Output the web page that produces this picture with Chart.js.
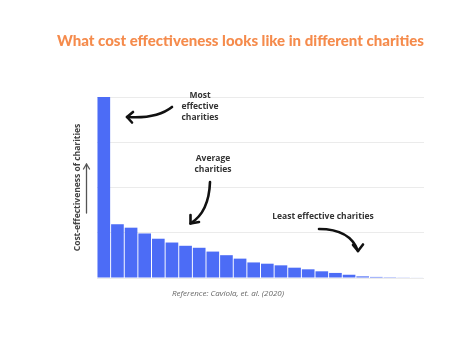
<!DOCTYPE html>
<html>
<head>
<meta charset="utf-8">
<script src="https://cdn.jsdelivr.net/npm/chart.js@4/dist/chart.umd.min.js"></script>
<style>
html,body{margin:0;padding:0;background:#fff;}
#wrap{width:474px;height:355px;position:relative;}
</style>
</head>
<body>
<div id="wrap"><canvas id="c" width="474" height="355"></canvas></div>
<script>
// Data (relative cost-effectiveness, top bar = 100)
const categories = ["1","2","3","4","5","6","7","8","9","10","11","12","13","14","15","16","17","18","19","20","21","22","23","24"];
const effectiveness = [100, 29.7, 27.8, 24.6, 21.7, 19.6, 17.8, 16.7, 14.6, 12.6, 10.7, 8.6, 7.9, 7.0, 5.7, 4.8, 3.7, 2.8, 1.8, 0.9, 0.6, 0.45, 0.35, 0.25];
const yTicks = [0, 25, 50, 75, 100];
const titleText = "What cost effectiveness looks like in different charities";
const yTitleText = "Cost-effectiveness of charities";
const referenceText = "Reference: Caviola, et. al. (2020)";
const noteMost = ["Most", "effective", "charities"];
const noteAverage = ["Average", "charities"];
const noteLeast = ["Least effective charities"];

function arrow(ctx, p0, c, p1, arms, width, color) {
  ctx.save();
  ctx.strokeStyle = color;
  ctx.lineWidth = width;
  ctx.lineCap = 'round';
  ctx.lineJoin = 'round';
  ctx.beginPath();
  ctx.moveTo(p0[0], p0[1]);
  ctx.quadraticCurveTo(c[0], c[1], p1[0], p1[1]);
  ctx.stroke();
  ctx.beginPath();
  ctx.moveTo(arms[0][0], arms[0][1]);
  ctx.lineTo(p1[0], p1[1]);
  ctx.lineTo(arms[1][0], arms[1][1]);
  ctx.stroke();
  ctx.restore();
}

const annotations = {
  id: 'annotations',
  afterDatasetsDraw(chart) {
    const ctx = chart.ctx;
    const ca = chart.chartArea;
    const X = v => ca.left + (v - 97);
    const Y = v => ca.top + (v - 97);
    ctx.save();
    ctx.fillStyle = '#333';
    ctx.textAlign = 'center';
    ctx.textBaseline = 'middle';
    ctx.font = '700 8.5px "Open Sans"';
    noteMost.forEach((t, i) => ctx.fillText(t, X(200), Y(96 + i * 10.7)));
    noteAverage.forEach((t, i) => ctx.fillText(t, X(213), Y(159 + i * 10.7)));
    noteLeast.forEach((t, i) => ctx.fillText(t, X(323), Y(217)));
    ctx.font = 'italic 8px "Open Sans"';
    ctx.fillStyle = '#666';
    ctx.fillText(referenceText, X(228), Y(294));
    ctx.restore();

    const k = '#111';
    arrow(ctx, [X(172), Y(107)], [X(157), Y(119)], [X(127), Y(117)],
          [[X(133), Y(112)], [X(132), Y(122.5)]], 2.6, k);
    arrow(ctx, [X(210), Y(182)], [X(209), Y(212)], [X(190.5), Y(223.5)],
          [[X(190.5), Y(215)], [X(199), Y(222)]], 2.6, k);
    arrow(ctx, [X(319), Y(229)], [X(350), Y(229)], [X(358), Y(251)],
          [[X(353), Y(245)], [X(363), Y(244.5)]], 2.6, k);
    // arrow next to the axis title
    arrow(ctx, [X(86.5), Y(213)], [X(86.5), Y(190)], [X(86.5), Y(164)],
          [[X(83.5), Y(169)], [X(89.5), Y(169)]], 1.3, '#555');
  }
};

new Chart(document.getElementById('c'), {
  type: 'bar',
  data: {
    labels: categories,
    datasets: [{
      data: effectiveness,
      backgroundColor: '#4c6cf6',
      borderWidth: 0,
      categoryPercentage: 1,
      barPercentage: 0.93
    }]
  },
  options: {
    responsive: false,
    animation: false,
    layout: { padding: { left: 57, right: 50, top: 0, bottom: 77 } },
    plugins: {
      legend: { display: false },
      tooltip: { enabled: false },
      title: {
        display: true,
        text: titleText,
        color: '#f58b4c',
        font: { family: 'Lato', weight: '900', size: 15 },
        padding: { top: 32, bottom: 47 }
      }
    },
    scales: {
      x: { display: false },
      y: {
        min: 0,
        max: 100,
        afterBuildTicks: s => { s.ticks = yTicks.map(v => ({ value: v })); },
        afterFit: s => { s.width = 40; },
        ticks: { display: false },
        grid: { color: '#ebebeb', drawTicks: false, lineWidth: 1 },
        border: { display: false },
        title: {
          display: true,
          text: yTitleText,
          color: '#444',
          font: { family: 'Open Sans', weight: '700', size: 8.5 },
          padding: { top: 15, bottom: 15 }
        }
      }
    }
  },
  plugins: [annotations]
});
</script>
</body>
</html>
